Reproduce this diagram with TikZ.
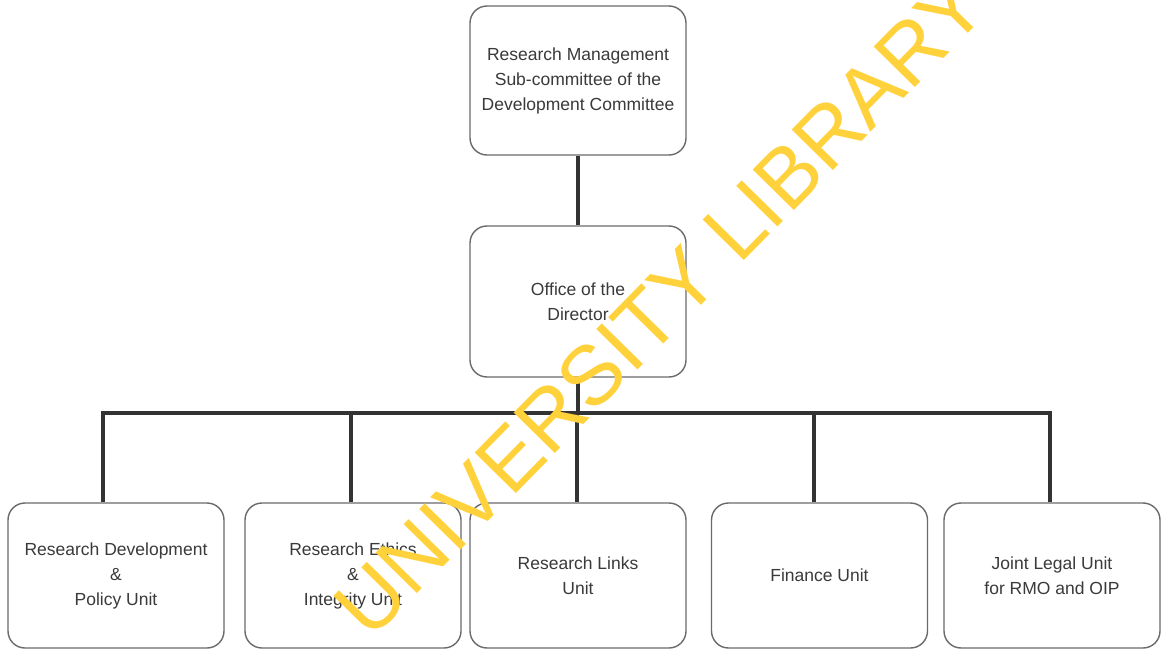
\documentclass[tikz,border=0pt]{standalone}
\usepackage{fontspec}
\setmainfont{Liberation Sans}
\begin{document}
\begin{tikzpicture}[x=1pt,y=-1pt,
  unitbox/.style={draw=boxgray, line width=1.4pt, rounded corners=17pt, fill=white,
    minimum width=216pt, align=center, text=txtgray,
    font=\fontsize{17.5}{25}\selectfont},
  link/.style={draw=linegray, line width=4pt}]
\definecolor{boxgray}{HTML}{6A6A6A}
\definecolor{txtgray}{HTML}{3A3A3A}
\definecolor{linegray}{HTML}{333333}
\definecolor{wmyellow}{HTML}{FFD23C}
\useasboundingbox (0,0) rectangle (1168,650);
\fill[white] (0,0) rectangle (1168,650);
\coordinate (d1) at (103,413);
\coordinate (d2) at (351,413);
\coordinate (d3) at (577,413);
\coordinate (d4) at (814,413);
\coordinate (d5) at (1050,413);
% boxes
\node[unitbox, minimum height=149pt] (rmc) at (578,80.5) {Research Management\\Sub-committee of the\\Development Committee};
\node[unitbox, minimum height=151pt] (dir) at (578,301.5) {Office of the\\Director};
\node[unitbox, minimum height=145pt] (b1) at (116,575.5) {Research Development\\\&\\Policy Unit};
\node[unitbox, minimum height=145pt] (b2) at (353,575.5) {Research Ethics\\\&\\Integrity Unit};
\node[unitbox, minimum height=145pt] (b3) at (578,575.5) {Research Links\\Unit};
\node[unitbox, minimum height=145pt] (b4) at (819.5,575.5) {Finance Unit};
\node[unitbox, minimum height=145pt] (b5) at (1052,575.5) {Joint Legal Unit\\for RMO and OIP};
% links
\draw[link] (rmc.south) -- (dir.north);
\draw[link] (dir.south) -- (dir.south |- d3);
\draw[link, line cap=rect] (d1) -- (d5);
\draw[link] (d1) -- (d1 |- b1.north);
\draw[link] (d2) -- (d2 |- b2.north);
\draw[link] (d3) -- (d3 |- b3.north);
\draw[link] (d4) -- (d4 |- b4.north);
\draw[link] (d5) -- (d5 |- b5.north);
% watermark (lies over the chart)
\node[rotate=45.5, text=wmyellow, font=\fontsize{84}{84}\selectfont, inner sep=0pt] (wm) at (660,306) {UNIVERSITY LIBRARY};
\end{tikzpicture}
\end{document}
